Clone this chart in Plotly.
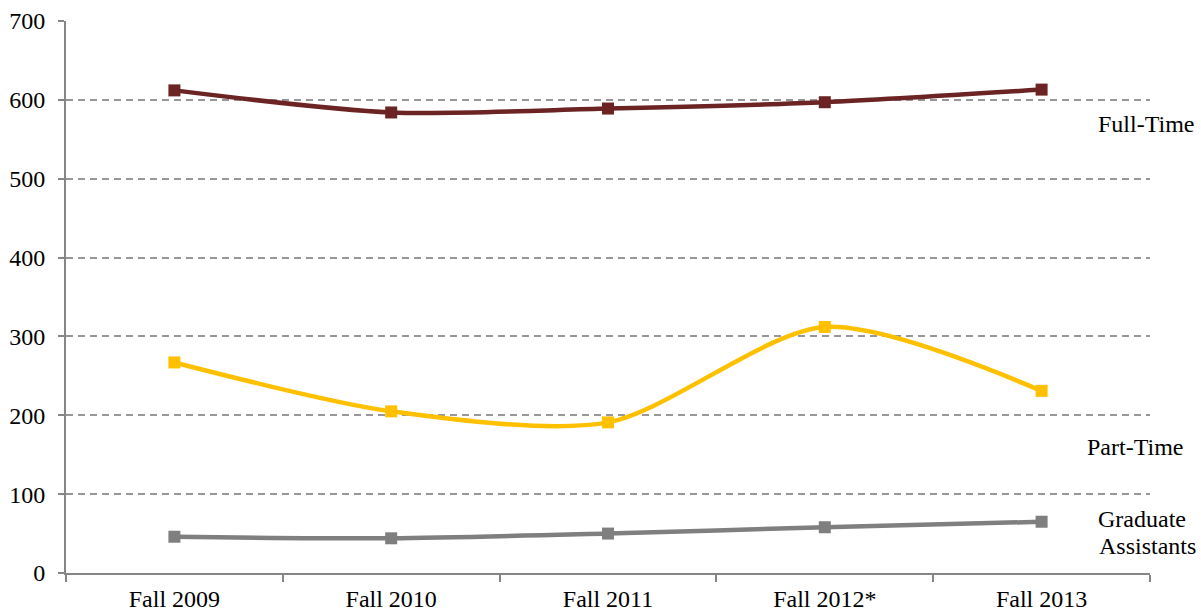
import plotly.graph_objects as go

categories = ["Fall 2009", "Fall 2010", "Fall 2011", "Fall 2012*", "Fall 2013"]
full_time = [612, 584, 589, 597, 613]
part_time = [267, 205, 191, 312, 231]
grad_assistants = [46, 44, 50, 58, 65]
y_ticks = [0, 100, 200, 300, 400, 500, 600, 700]

series = [
    ("Full-Time", full_time, "#6B2323"),
    ("Part-Time", part_time, "#FFC000"),
    ("Graduate Assistants", grad_assistants, "#7F7F7F"),
]

fig = go.Figure()
for name, vals, color in series:
    fig.add_trace(go.Scatter(
        x=categories, y=vals, name=name, mode="lines+markers",
        line=dict(color=color, width=4.5, shape="spline", smoothing=0.8),
        marker=dict(symbol="square", size=12, color=color),
        showlegend=False,
    ))

font = dict(family="Liberation Serif, Times New Roman, serif", size=24, color="black")

W0, W = 66, 1084
def px(xp):
    return (xp - W0) / W

labels = [
    ("Full-Time", 1096, 570),
    ("Part-Time", 1085, 160),
    ("Graduate", 1096, 68.5),
    ("Assistants", 1097, 34.5),
]
for text, xp, yv in labels:
    fig.add_annotation(x=px(xp), y=yv, xref="paper", yref="y", text=text,
                       showarrow=False, xanchor="left", yanchor="middle", font=font)

fig.update_layout(
    width=1201, height=616,
    margin=dict(l=66, r=51, t=21, b=43, autoexpand=False),
    paper_bgcolor="white", plot_bgcolor="white",
    font=font,
)
fig.update_xaxes(
    type="category", showline=True, linecolor="#868686", linewidth=2,
    ticks="outside", tickson="boundaries", ticklen=7, tickcolor="#868686", tickwidth=2,
    showgrid=False, tickfont=font, range=[-0.5, 4.5], automargin=False,
    ticklabelstandoff=3,
)
fig.update_yaxes(
    range=[0, 700], tickvals=y_ticks, showline=True, linecolor="#868686", linewidth=2,
    ticks="outside", ticklen=6, tickcolor="#868686", tickwidth=2,
    showgrid=True, gridcolor="#979797", griddash="7px,5px", gridwidth=1.5,
    zeroline=False, tickfont=font, automargin=False, ticklabelstandoff=8,
)

fig.write_html("out.html", config={"displayModeBar": False},
               post_script="document.body.style.margin='0';document.body.style.overflow='hidden';")
